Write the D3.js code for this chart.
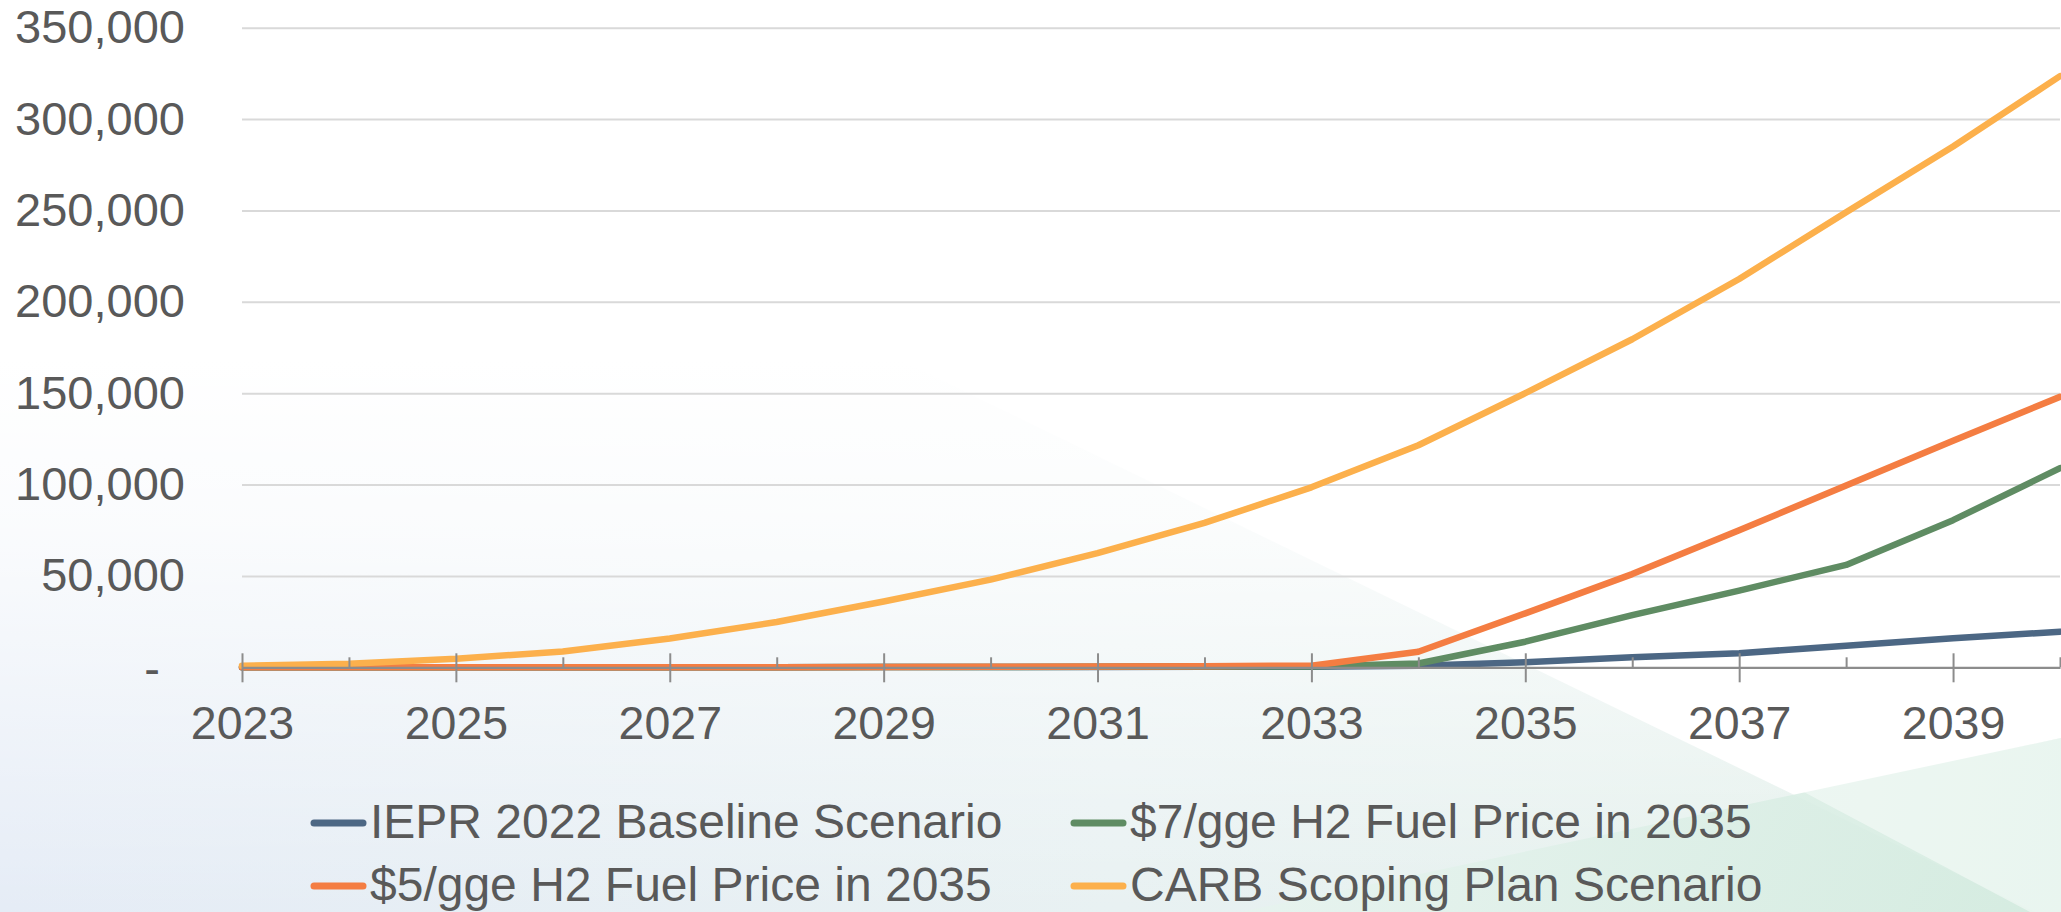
<!DOCTYPE html>
<html>
<head>
<meta charset="utf-8">
<script src="https://cdn.jsdelivr.net/npm/d3@7"></script>
<style>
  html, body { margin: 0; padding: 0; background: #ffffff; overflow: hidden; }
  svg { display: block; font-family: "Liberation Sans", Arial, sans-serif; }
</style>
</head>
<body>
<svg id="chart" width="2061" height="912"></svg>
<script>
// ---- data -------------------------------------------------------------
const years = [2023, 2024, 2025, 2026, 2027, 2028, 2029, 2030, 2031, 2032,
               2033, 2034, 2035, 2036, 2037, 2038, 2039, 2040];

const ieprBaseline = [0, 0, 0, 0, 0, 0, 100, 150, 200, 250,
                      300, 900, 2700, 5500, 7700, 11800, 15900, 19500];
const h2Price7 = [0, 0, 0, 0, 0, 0, 100, 200, 300, 400,
                  500, 2100, 14000, 28500, 42000, 56000, 80500, 109000];
const h2Price5 = [0, 0, 0, 0, 0, 0, 100, 300, 500, 600,
                  900, 8500, 29500, 51000, 75000, 99500, 124000, 148000];
const carbScoping = [900, 2000, 4700, 8700, 15800, 24800, 36000, 48000, 62500, 79000,
                     98500, 121500, 150000, 179500, 212500, 249000, 285000, 323500];

const seriesNames = [
  "IEPR 2022 Baseline Scenario",
  "$7/gge H2 Fuel Price in 2035",
  "$5/gge H2 Fuel Price in 2035",
  "CARB Scoping Plan Scenario"
];
const seriesValues = [ieprBaseline, h2Price7, h2Price5, carbScoping];

const yTickValues = [0, 50000, 100000, 150000, 200000, 250000, 300000, 350000];
const xLabelYears = [2023, 2025, 2027, 2029, 2031, 2033, 2035, 2037, 2039];

// ---- styling ----------------------------------------------------------
const seriesColors = ["#4c6784", "#5f8c63", "#f47d42", "#fcb04c"];
const textColor = "#595959";
const axisColor = "#8c8c8c";
const gridColor = "#d9d9d9";

const W = 2061, H = 912;
const plot = { left: 242, right: 2060, top: 27.7, bottom: 667.3 };

const svg = d3.select("#chart");
const defs = svg.append("defs");

// ---- background -------------------------------------------------------
const tintGrad = defs.append("linearGradient").attr("id", "tintH")
  .attr("x1", 0).attr("y1", 0).attr("x2", 1).attr("y2", 0);
tintGrad.append("stop").attr("offset", 0).attr("stop-color", "#e5ecf6");
tintGrad.append("stop").attr("offset", 0.55).attr("stop-color", "#e8f1f2");
tintGrad.append("stop").attr("offset", 1).attr("stop-color", "#e3f0ea");

const fadeGrad = defs.append("linearGradient").attr("id", "fadeV")
  .attr("gradientUnits", "userSpaceOnUse")
  .attr("x1", 0).attr("y1", 360).attr("x2", 0).attr("y2", H);
fadeGrad.append("stop").attr("offset", 0).attr("stop-color", "#ffffff").attr("stop-opacity", 1);
fadeGrad.append("stop").attr("offset", 0.3).attr("stop-color", "#ffffff").attr("stop-opacity", 0.82);
fadeGrad.append("stop").attr("offset", 1).attr("stop-color", "#ffffff").attr("stop-opacity", 0);

const greenGrad = defs.append("linearGradient").attr("id", "greenWedge")
  .attr("gradientUnits", "userSpaceOnUse")
  .attr("x1", 1300).attr("y1", 760).attr("x2", 2061).attr("y2", 912);
greenGrad.append("stop").attr("offset", 0).attr("stop-color", "#e6f3ee");
greenGrad.append("stop").attr("offset", 1).attr("stop-color", "#d3ebdf");

const bg = svg.append("g").attr("class", "background");
bg.append("rect").attr("width", W).attr("height", H).attr("fill", "#ffffff");
bg.append("polygon")
  .attr("points", "0,360 900,360 2035,912 0,912")
  .attr("fill", "url(#tintH)");
bg.append("rect").attr("x", 0).attr("y", 360).attr("width", W).attr("height", H - 360)
  .attr("fill", "url(#fadeV)");
bg.append("polygon")
  .attr("points", "1240,912 2061,738 2061,912")
  .attr("fill", "url(#greenWedge)").attr("opacity", 0.9);
bg.append("polygon")
  .attr("points", "1800,790 2061,738 2061,912 2030,912")
  .attr("fill", "#ffffff").attr("opacity", 0.45);

// ---- scales -----------------------------------------------------------
const x = d3.scalePoint().domain(years).range([plot.left, plot.right]);
const y = d3.scaleLinear().domain([0, 350000]).range([plot.bottom, plot.top]);

// gridlines
const grid = svg.append("g").attr("transform", `translate(${plot.left},0)`)
  .call(d3.axisLeft(y).tickValues(yTickValues.filter(v => v > 0))
    .tickSize(-(plot.right - plot.left)).tickFormat(""));
grid.select(".domain").remove();
grid.selectAll(".tick line").attr("stroke", gridColor).attr("stroke-width", 2);

// y-axis labels
const fmt = d3.format(",");
const yAxis = svg.append("g").attr("transform", `translate(${plot.left},0)`)
  .call(d3.axisLeft(y).tickValues(yTickValues).tickSize(0).tickPadding(57)
    .tickFormat(d => d === 0 ? "-" : fmt(d)));
yAxis.select(".domain").remove();
yAxis.selectAll("text")
  .attr("fill", textColor)
  .style("font-size", "47px")
  .style("font-family", "'Liberation Sans', Arial, sans-serif");
yAxis.selectAll(".tick").filter(d => d === 0).select("text").attr("dx", -25).attr("dy", "0.36em");

// ---- series lines -----------------------------------------------------
const line = d3.line()
  .x((d, i) => x(years[i]))
  .y(d => y(d));

svg.append("g").selectAll("path")
  .data(seriesValues)
  .join("path")
  .attr("d", d => line(d))
  .attr("fill", "none")
  .attr("stroke", (d, i) => seriesColors[i])
  .attr("stroke-width", 6.5)
  .attr("stroke-linejoin", "round")
  .attr("stroke-linecap", "round");

// ---- x axis -----------------------------------------------------------
// short inside ticks for every year
const xTop = svg.append("g").attr("transform", `translate(0,${plot.bottom})`)
  .call(d3.axisTop(x).tickValues(years).tickSizeInner(10).tickSizeOuter(0).tickFormat(""));
xTop.select(".domain").attr("stroke", axisColor).attr("stroke-width", 2.2);
xTop.selectAll(".tick line").attr("stroke", axisColor).attr("stroke-width", 2)
  .filter(d => xLabelYears.includes(d)).attr("y2", -14);

// crossing ticks and labels for the labelled years
const xBottom = svg.append("g").attr("transform", `translate(0,${plot.bottom})`)
  .call(d3.axisBottom(x).tickValues(xLabelYears).tickSizeInner(15).tickSizeOuter(0).tickPadding(24));
xBottom.select(".domain").remove();
xBottom.selectAll(".tick line").attr("stroke", axisColor).attr("stroke-width", 2);
xBottom.selectAll("text")
  .attr("fill", textColor)
  .style("font-size", "46.5px")
  .style("font-family", "'Liberation Sans', Arial, sans-serif");

// ---- legend -----------------------------------------------------------
const legendCols = [311, 1071];
const legendRows = [823, 886];
const legend = svg.append("g").selectAll("g")
  .data(seriesNames)
  .join("g")
  .attr("transform", (d, i) => `translate(${legendCols[i % 2]},${legendRows[Math.floor(i / 2)]})`);
legend.append("line")
  .attr("x1", 3).attr("x2", 52).attr("y1", 0).attr("y2", 0)
  .attr("stroke", (d, i) => seriesColors[i])
  .attr("stroke-width", 7)
  .attr("stroke-linecap", "round");
legend.append("text")
  .attr("x", 59).attr("y", 15)
  .attr("fill", textColor)
  .style("font-size", "48px")
  .text(d => d);
</script>
</body>
</html>
